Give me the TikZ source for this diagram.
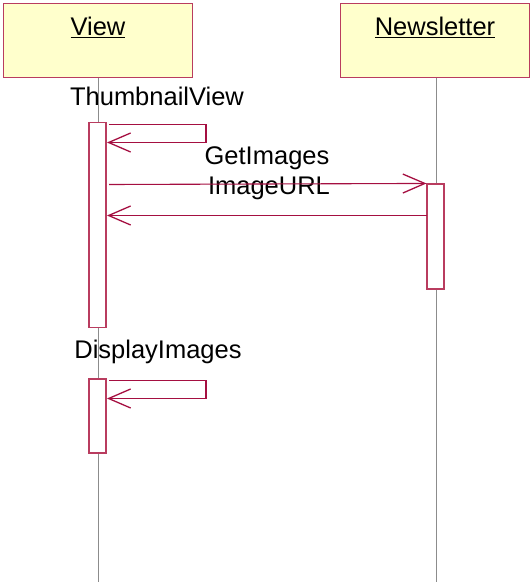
\documentclass[tikz,border=0pt]{standalone}
\usepackage{fontspec}
\setmainfont{Liberation Sans}
\usetikzlibrary{arrows.meta}
\definecolor{boxfill}{RGB}{255,255,204}
\definecolor{boxedge}{RGB}{185,60,95}
\definecolor{msgcol}{RGB}{165,15,65}
\definecolor{lifecol}{RGB}{140,140,140}
\tikzset{
  x=1pt, y=-1pt,
  every node/.style={font=\fontsize{25.5}{30}\selectfont, inner sep=0pt},
  objbox/.style={draw=boxedge, fill=boxfill, line width=1.5pt, minimum width=189pt, minimum height=74pt},
  actbar/.style={draw=boxedge, fill=white, line width=1.1pt, minimum width=17pt},
  lifeline/.style={draw=lifecol, line width=0.8pt},
  msg/.style={draw=msgcol, line width=1.1pt},
  ret/.style={msg, -{Straight Barb[length=22pt,width=19pt,line width=1.3pt]}},
}
\begin{document}
\begin{tikzpicture}
\useasboundingbox (0,0) rectangle (531,586);
% lifelines
\coordinate (vtop) at (98,78);
\coordinate (vbot) at (98,582);
\coordinate (ntop) at (436.5,78);
\coordinate (nbot) at (436.5,582);
\draw[lifeline] (vtop) -- (vbot);
\draw[lifeline] (ntop) -- (nbot);
% objects
\node[objbox] (view) at (98,40.5) {};
\node[objbox] (news) at (435,40.5) {};
\node at (98,27) {\underline{View}};
\node at (435,27) {\underline{Newsletter}};
% activation bars
\node[actbar, minimum height=205pt] (a1) at (97.5,225) {};
\node[actbar, minimum height=105pt] (n1) at (435.5,236.5) {};
\node[actbar, minimum height=74pt] (a2) at (97.5,416) {};
% labels
\node (lthumb) at (157,96) {ThumbnailView};
\node (lget) at (267,158) {GetImages};
\node (lurl) at (269,188) {ImageURL};
\node (ldisp) at (158,352) {DisplayImages};
% self message 1
\coordinate (s1a) at (109,124.5);
\coordinate (s1b) at (206,124.5);
\coordinate (s1c) at (206,142.5);
\coordinate (s1d) at (107,142.5);
\draw[msg] (s1a) -- (s1b) -- (s1c);
\draw[ret] (s1c) -- (s1d);
% GetImages
\coordinate (g1) at (109,184.5);
\draw[ret] (g1) -- (n1.north west);
% ImageURL
\coordinate (r1) at (427,215.5);
\coordinate (r2) at (107,215.5);
\draw[ret] (r1) -- (r2);
% self message 2
\coordinate (s2a) at (109,380.5);
\coordinate (s2b) at (206,380.5);
\coordinate (s2c) at (206,398.5);
\coordinate (s2d) at (107,398.5);
\draw[msg] (s2a) -- (s2b) -- (s2c);
\draw[ret] (s2c) -- (s2d);
\end{tikzpicture}
\end{document}
